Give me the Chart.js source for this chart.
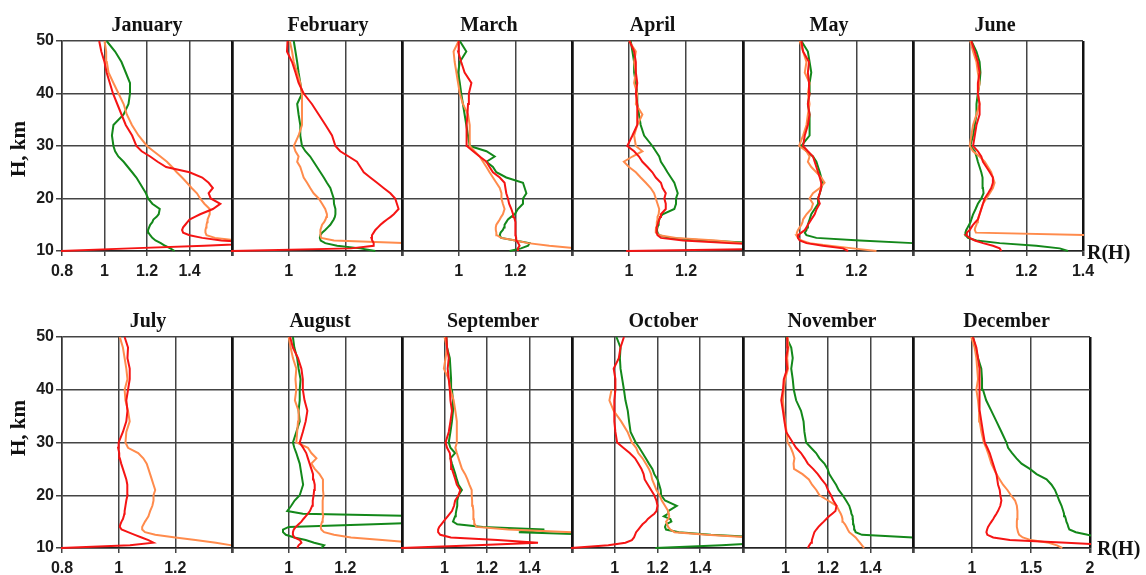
<!DOCTYPE html>
<html>
<head>
<meta charset="utf-8">
<script src="https://cdn.jsdelivr.net/npm/chart.js@4.4.0/dist/chart.umd.min.js"></script>
<style>
  html, body { margin: 0; padding: 0; background: #fff; }
  #wrap { position: relative; width: 1146px; height: 575px; overflow: hidden; background: #fff; }
  canvas.panel { position: absolute; }
  .title { position: absolute; width: 200px; text-align: center; white-space: nowrap;
           font: bold 20px "Liberation Serif", "Times New Roman", serif; color: #111; line-height: 26px; }
  .axlbl { position: absolute; white-space: nowrap; color: #111;
           font: bold 21px "Liberation Serif", "Times New Roman", serif; line-height: 24px; }
</style>
</head>
<body>
<div id="wrap"></div>
<script>
// ---- data ------------------------------------------------------------
const months = ['January', 'February', 'March', 'April', 'May', 'June',
  'July', 'August', 'September', 'October', 'November', 'December'];

// altitude levels, km (shared by every profile)
const heights = [10, 10.5, 11, 11.5, 12, 12.5, 13, 13.5, 14, 14.5, 15, 15.5, 16, 16.5, 17,
  18, 19, 20, 21, 22, 23, 24, 25, 26, 27, 28, 29, 30,
  32, 34, 36, 38, 40, 42, 44, 46, 48, 50];

const yTicks = [10, 20, 30, 40, 50];
const xMin = [0.8, 0.8, 0.8, 0.8, 0.8, 0.8, 0.8, 0.8, 0.8, 0.8, 0.8, 0.5];
const xMax = [1.6, 1.4, 1.4, 1.4, 1.4, 1.4, 1.4, 1.4, 1.6, 1.6, 1.6, 2];
const xStep = [0.2, 0.2, 0.2, 0.2, 0.2, 0.2, 0.2, 0.2, 0.2, 0.2, 0.2, 0.5];
const xTickLabels = [
  [0.8, 1, 1.2, 1.4], [1, 1.2], [1, 1.2], [1, 1.2], [1, 1.2], [1, 1.2, 1.4],
  [0.8, 1, 1.2], [1, 1.2], [1, 1.2, 1.4], [1, 1.2, 1.4], [1, 1.2, 1.4], [1, 1.5, 2]
];

// R(H) profiles, one value per entry of `heights`
const janRed = [0.79, 1.12, 1.47, 1.75, 1.55, 1.46, 1.40, 1.37, 1.365, 1.37, 1.38, 1.39, 1.40, 1.425, 1.45,
  1.51, 1.545, 1.50, 1.49, 1.51, 1.49, 1.46, 1.40, 1.29, 1.25, 1.215, 1.175, 1.15,
  1.13, 1.10, 1.08, 1.06, 1.04, 1.025, 1.01, 1.0, 0.985, 0.975];
const janGreen = [1.33, 1.31, 1.285, 1.265, 1.24, 1.225, 1.215, 1.207, 1.205, 1.21, 1.215, 1.225, 1.23, 1.245, 1.255,
  1.26, 1.225, 1.205, 1.195, 1.18, 1.165, 1.15, 1.13, 1.11, 1.09, 1.065, 1.05, 1.042,
  1.035, 1.042, 1.09, 1.113, 1.12, 1.12, 1.10, 1.08, 1.05, 1.01];
const janOrange = [1.8, 1.8, 1.8, 1.8, 1.62, 1.52, 1.48, 1.475, 1.475, 1.478, 1.48, 1.483, 1.485, 1.49, 1.495,
  1.495, 1.47, 1.45, 1.435, 1.41, 1.388, 1.365, 1.34, 1.318, 1.294, 1.263, 1.231, 1.2,
  1.16, 1.129, 1.105, 1.09, 1.066, 1.042, 1.019, 1.011, 1.008, 1.0];

const febRed = [0.79, 1.22, 1.30, 1.30, 1.295, 1.292, 1.294, 1.30, 1.306, 1.315, 1.324, 1.335, 1.347, 1.36, 1.371,
  1.388, 1.382, 1.376, 1.359, 1.335, 1.312, 1.288, 1.265, 1.253, 1.241, 1.212, 1.182, 1.165,
  1.153, 1.13, 1.106, 1.082, 1.053, 1.035, 1.024, 1.012, 0.994, 0.996];
const febGreen = [1.306, 1.253, 1.171, 1.129, 1.113, 1.11, 1.112, 1.118, 1.129, 1.138, 1.147, 1.153, 1.159, 1.163, 1.165,
  1.165, 1.16, 1.159, 1.153, 1.147, 1.135, 1.124, 1.112, 1.10, 1.088, 1.076, 1.059, 1.047,
  1.041, 1.041, 1.035, 1.03, 1.047, 1.041, 1.035, 1.03, 1.024, 1.018];
const febOrange = [1.5, 1.5, 1.5, 1.42, 1.16, 1.115, 1.112, 1.112, 1.112, 1.115, 1.118, 1.125, 1.13, 1.133, 1.135,
  1.129, 1.118, 1.106, 1.088, 1.076, 1.065, 1.053, 1.047, 1.041, 1.03, 1.035, 1.024, 1.018,
  1.035, 1.047, 1.047, 1.047, 1.047, 1.041, 1.03, 1.018, 1.012, 1.004];

const marRed = [1.209, 1.209, 1.215, 1.21, 1.204, 1.203, 1.201, 1.201, 1.201, 1.2, 1.2, 1.199, 1.198, 1.195, 1.192,
  1.186, 1.178, 1.174, 1.168, 1.165, 1.162, 1.145, 1.121, 1.109, 1.098, 1.074, 1.051, 1.029,
  1.027, 1.029, 1.031, 1.033, 1.036, 1.045, 1.021, 1.009, 0.998, 1.0];
const marGreen = [1.18, 1.22, 1.245, 1.25, 1.2, 1.15, 1.145, 1.148, 1.156, 1.16, 1.162, 1.168, 1.174, 1.185, 1.198,
  1.209, 1.227, 1.227, 1.239, 1.233, 1.227, 1.168, 1.133, 1.121, 1.098, 1.127, 1.098, 1.039,
  1.033, 1.027, 1.021, 1.015, 1.009, 1.004, 0.998, 1.004, 1.027, 1.004];
const marOrange = [1.5, 1.42, 1.32, 1.245, 1.2, 1.15, 1.135, 1.133, 1.131, 1.131, 1.133, 1.139, 1.145, 1.15, 1.156,
  1.162, 1.156, 1.151, 1.151, 1.145, 1.133, 1.121, 1.109, 1.098, 1.086, 1.074, 1.056, 1.039,
  1.039, 1.039, 1.033, 1.015, 1.004, 0.998, 0.992, 0.986, 0.982, 1.0];

const aprRed = [0.99, 1.6, 1.6, 1.35, 1.19, 1.112, 1.1, 1.097, 1.096, 1.098, 1.1, 1.103, 1.106, 1.109, 1.112,
  1.129, 1.129, 1.124, 1.129, 1.118, 1.112, 1.094, 1.082, 1.065, 1.047, 1.035, 1.018, 0.994,
  1.012, 1.029, 1.029, 1.029, 1.024, 1.029, 1.024, 1.024, 1.018, 1.002];
const aprGreen = [1.45, 1.45, 1.45, 1.45, 1.271, 1.141, 1.106, 1.1, 1.098, 1.1, 1.103, 1.104, 1.106, 1.11, 1.118,
  1.159, 1.165, 1.165, 1.171, 1.165, 1.159, 1.147, 1.135, 1.124, 1.112, 1.106, 1.094, 1.082,
  1.053, 1.041, 1.035, 1.029, 1.029, 1.024, 1.018, 1.018, 1.012, 1.006];
const aprOrange = [1.45, 1.45, 1.45, 1.4, 1.306, 1.165, 1.106, 1.094, 1.094, 1.095, 1.097, 1.098, 1.1, 1.1, 1.104,
  1.106, 1.1, 1.094, 1.088, 1.076, 1.059, 1.041, 1.024, 1.0, 0.982, 1.012, 1.047, 1.024,
  1.018, 1.029, 1.047, 1.024, 1.029, 1.018, 1.024, 1.018, 1.024, 1.0];

const mayRed = [1.171, 1.153, 1.082, 1.024, 1.0, 0.994, 0.994, 1.006, 1.018, 1.024, 1.029, 1.035, 1.041, 1.047, 1.053,
  1.06, 1.071, 1.065, 1.071, 1.076, 1.076, 1.071, 1.065, 1.059, 1.053, 1.047, 1.029, 1.012,
  1.018, 1.029, 1.035, 1.029, 1.035, 1.033, 1.029, 1.033, 1.012, 1.006];
const mayGreen = [1.45, 1.45, 1.45, 1.4, 1.212, 1.059, 1.024, 1.018, 1.024, 1.026, 1.029, 1.032, 1.035, 1.038, 1.041,
  1.053, 1.065, 1.065, 1.071, 1.076, 1.082, 1.076, 1.071, 1.065, 1.059, 1.047, 1.024, 1.006,
  1.035, 1.035, 1.035, 1.029, 1.035, 1.035, 1.041, 1.035, 1.029, 1.006];
const mayOrange = [1.271, 1.188, 1.106, 1.035, 1.006, 0.994, 0.988, 0.99, 0.994, 1.0, 1.006, 1.01, 1.012, 1.018, 1.024,
  1.041, 1.047, 1.035, 1.047, 1.071, 1.088, 1.076, 1.059, 1.041, 1.029, 1.035, 1.024, 0.998,
  1.012, 1.024, 1.029, 1.035, 1.029, 1.035, 1.018, 1.024, 1.012, 1.0];

const junRed = [1.112, 1.106, 1.082, 1.047, 1.018, 1.0, 0.988, 0.99, 1.0, 1.006, 1.012, 1.02, 1.029, 1.032, 1.035,
  1.041, 1.047, 1.053, 1.065, 1.076, 1.082, 1.082, 1.071, 1.059, 1.047, 1.041, 1.029, 1.012,
  1.018, 1.024, 1.035, 1.035, 1.029, 1.029, 1.035, 1.029, 1.018, 1.006];
const junGreen = [1.347, 1.318, 1.235, 1.106, 1.024, 0.994, 0.986, 0.985, 0.988, 0.993, 0.998, 1.003, 1.006, 1.009, 1.012,
  1.021, 1.029, 1.041, 1.049, 1.047, 1.047, 1.044, 1.041, 1.035, 1.029, 1.024, 1.018, 1.002,
  1.012, 1.018, 1.024, 1.024, 1.029, 1.035, 1.038, 1.035, 1.024, 1.006];
const junOrange = [1.45, 1.45, 1.45, 1.45, 1.45, 1.45, 1.45, 1.022, 1.018, 1.02, 1.024, 1.026, 1.029, 1.032, 1.035,
  1.041, 1.047, 1.059, 1.071, 1.082, 1.088, 1.082, 1.076, 1.065, 1.053, 1.035, 1.012, 1.0,
  1.006, 1.012, 1.024, 1.035, 1.029, 1.035, 1.029, 1.024, 1.012, 1.002];

const julRed = [0.79, 1.04, 1.123, 1.105, 1.081, 1.057, 1.033, 1.01, 1.004, 1.006, 1.01, 1.015, 1.018, 1.02, 1.021,
  1.024, 1.027, 1.031, 1.031, 1.03, 1.027, 1.021, 1.015, 1.009, 1.004, 1.002, 0.998, 1.0,
  1.015, 1.027, 1.031, 1.027, 1.033, 1.039, 1.039, 1.031, 1.033, 1.021];
const julOrange = [1.45, 1.4, 1.343, 1.271, 1.2, 1.129, 1.093, 1.083, 1.083, 1.088, 1.093, 1.099, 1.105, 1.108, 1.111,
  1.119, 1.123, 1.123, 1.129, 1.123, 1.117, 1.111, 1.105, 1.099, 1.087, 1.069, 1.033, 1.024,
  1.027, 1.039, 1.033, 1.024, 1.021, 1.031, 1.027, 1.021, 1.015, 1.004];

const augRed = [1.03, 1.035, 1.045, 1.04, 1.02, 1.015, 1.015, 1.018, 1.025, 1.035, 1.045, 1.052, 1.06, 1.068, 1.075,
  1.083, 1.085, 1.088, 1.09, 1.092, 1.088, 1.086, 1.08, 1.074, 1.068, 1.062, 1.051, 1.039,
  1.05, 1.06, 1.066, 1.056, 1.05, 1.05, 1.045, 1.033, 1.015, 1.005];
const augGreen = [1.115, 1.125, 1.09, 1.06, 1.02, 0.99, 0.98, 0.98, 1.0, 1.3, 1.6, 1.6, 1.5, 1.05, 0.995,
  1.009, 1.021, 1.039, 1.045, 1.051, 1.048, 1.045, 1.042, 1.039, 1.033, 1.027, 1.02, 1.015,
  1.027, 1.039, 1.035, 1.039, 1.039, 1.042, 1.035, 1.03, 1.02, 1.015];
const augOrange = [1.5, 1.5, 1.44, 1.33, 1.22, 1.16, 1.125, 1.115, 1.113, 1.115, 1.118, 1.12, 1.122, 1.121, 1.12,
  1.12, 1.12, 1.123, 1.121, 1.121, 1.121, 1.109, 1.092, 1.08, 1.098, 1.08, 1.068, 1.027,
  1.03, 1.033, 1.035, 1.022, 1.027, 1.024, 1.027, 1.015, 1.007, 1.0];

const sepRed = [0.79, 1.15, 1.44, 1.25, 1.03, 0.98, 0.97, 0.97, 0.975, 0.985, 0.995, 1.005, 1.015, 1.025, 1.035,
  1.045, 1.05, 1.066, 1.074, 1.058, 1.051, 1.043, 1.035, 1.031, 1.028, 1.025, 1.012, 1.005,
  1.02, 1.028, 1.035, 1.028, 1.025, 1.02, 1.015, 1.02, 1.012, 1.009];
const sepGreen = [1.7, 1.7, 1.7, 1.7, 1.7, 1.7, 1.35, 1.47, 1.18, 1.06, 1.04, 1.045, 1.05, 1.053, 1.055,
  1.06, 1.06, 1.066, 1.082, 1.066, 1.058, 1.051, 1.043, 1.035, 1.028, 1.05, 1.028, 1.02,
  1.028, 1.035, 1.04, 1.04, 1.035, 1.031, 1.028, 1.025, 1.012, 1.009];
const sepOrange = [1.7, 1.7, 1.7, 1.7, 1.7, 1.7, 1.6, 1.3, 1.15, 1.143, 1.14, 1.138, 1.137, 1.136, 1.135,
  1.133, 1.13, 1.128, 1.128, 1.117, 1.108, 1.097, 1.082, 1.074, 1.066, 1.058, 1.051, 1.058,
  1.058, 1.058, 1.051, 1.043, 1.028, 1.02, 0.997, 1.005, 1.012, 1.0];

const octRed = [0.79, 0.97, 1.05, 1.08, 1.09, 1.095, 1.1, 1.11, 1.12, 1.13, 1.145, 1.155, 1.17, 1.185, 1.195,
  1.2, 1.195, 1.185, 1.17, 1.155, 1.14, 1.135, 1.125, 1.11, 1.095, 1.07, 1.04, 1.011,
  1.003, 0.998, 0.998, 0.998, 1.003, 1.003, 0.995, 1.019, 1.027, 1.043];
const octGreen = [1.19, 1.5, 1.7, 1.7, 1.7, 1.45, 1.3, 1.24, 1.235, 1.24, 1.265, 1.26, 1.23, 1.25, 1.25,
  1.29, 1.235, 1.217, 1.215, 1.208, 1.2, 1.185, 1.176, 1.16, 1.145, 1.13, 1.115, 1.098,
  1.074, 1.067, 1.061, 1.05, 1.043, 1.035, 1.027, 1.024, 1.027, 1.008];
const octOrange = [1.65, 1.65, 1.65, 1.65, 1.65, 1.43, 1.28, 1.26, 1.25, 1.245, 1.24, 1.25, 1.255, 1.253, 1.25,
  1.235, 1.22, 1.21, 1.195, 1.185, 1.175, 1.17, 1.16, 1.145, 1.13, 1.11, 1.1, 1.08,
  1.06, 1.03, 0.995, 0.975, 0.985, null, null, null, null, null];

const novRed = [1.105, 1.112, 1.12, 1.124, 1.128, 1.132, 1.136, 1.145, 1.155, 1.167, 1.18, 1.192, 1.205, 1.22, 1.235,
  1.24, 1.225, 1.214, 1.2, 1.19, 1.17, 1.152, 1.13, 1.105, 1.09, 1.073, 1.05, 1.034,
  1.003, 0.995, 0.988, 0.98, 0.988, 0.992, 1.008, 1.003, 1.011, 1.008];
const novGreen = [1.7, 1.7, 1.75, 1.75, 1.6, 1.36, 1.33, 1.325, 1.323, 1.32, 1.318, 1.317, 1.316, 1.31, 1.308,
  1.3, 1.285, 1.269, 1.25, 1.238, 1.222, 1.206, 1.198, 1.183, 1.16, 1.144, 1.12, 1.097,
  1.089, 1.085, 1.073, 1.05, 1.039, 1.034, 1.027, 1.034, 1.027, 1.003];
const novOrange = [1.37, 1.36, 1.35, 1.34, 1.33, 1.315, 1.3, 1.293, 1.287, 1.28, 1.27, 1.268, 1.265, 1.26, 1.253,
  1.24, 1.2, 1.16, 1.145, 1.125, 1.11, 1.08, 1.04, 1.038, 1.042, 1.035, 1.025, 1.01,
  1.005, 0.998, 0.992, 0.988, 0.992, 0.998, 1.012, 1.008, 1.014, 1.01];

const decRed = [2.2, 2.2, 1.8, 1.32, 1.18, 1.13, 1.122, 1.128, 1.136, 1.15, 1.165, 1.18, 1.193, 1.207, 1.22,
  1.24, 1.249, 1.24, 1.235, 1.221, 1.214, 1.207, 1.192, 1.178, 1.164, 1.15, 1.13, 1.108,
  1.093, 1.079, 1.065, 1.06, 1.065, 1.065, 1.065, 1.051, 1.037, 1.008];
const decGreen = [2.1, 2.1, 2.1, 2.1, 2.1, 1.98, 1.88, 1.825, 1.816, 1.81, 1.8, 1.795, 1.788, 1.78, 1.773,
  1.759, 1.739, 1.722, 1.703, 1.674, 1.632, 1.547, 1.49, 1.42, 1.377, 1.34, 1.306, 1.292,
  1.25, 1.207, 1.164, 1.12, 1.093, 1.085, 1.079, 1.051, 1.03, 1.008];
const decOrange = [1.765, 1.72, 1.65, 1.5, 1.43, 1.4, 1.39, 1.385, 1.38, 1.38, 1.38, 1.382, 1.385, 1.385, 1.385,
  1.38, 1.365, 1.33, 1.3, 1.263, 1.235, 1.207, 1.185, 1.164, 1.15, 1.136, 1.12, 1.1,
  1.08, 1.065, 1.06, 1.051, 1.037, 1.051, 1.044, 1.037, 1.022, 0.994];

const redSeries = [janRed, febRed, marRed, aprRed, mayRed, junRed, julRed, augRed, sepRed, octRed, novRed, decRed];
const greenSeries = [janGreen, febGreen, marGreen, aprGreen, mayGreen, junGreen, null, augGreen, sepGreen, octGreen, novGreen, decGreen];
const orangeSeries = [janOrange, febOrange, marOrange, aprOrange, mayOrange, junOrange, julOrange, augOrange, sepOrange, octOrange, novOrange, decOrange];

// ---- layout ------------------------------------------------------------
const RED = '#f51414', GREEN = '#13881a', ORANGE = '#ff8b4c';
const GRID = '#444', EDGE = '#111';
const colEdges = [62, 232, 402, 572, 743, 913, 1083];
const rowTop = [41, 337], rowH = [210, 211];
const titleDx = [0, 11, 2, -5, 1, -3, 1, 3, 6, 6, 4, 5];
const tickFont = { family: '"Liberation Sans", Arial, sans-serif', size: 16, weight: 'bold' };
const PL = 40, PR = 22, PT = 12, PB = 36;
const wrap = document.getElementById('wrap');

function fmt(v) { return String(Math.round(v * 100) / 100); }

function xGrid(i) {
  const out = [];
  for (let v = xMin[i]; v <= xMax[i] + 1e-9; v += xStep[i]) out.push(Math.round(v * 100) / 100);
  return out;
}

function toPoints(arr) {
  return arr.map((r, k) => ({ x: r, y: heights[k] }));
}

function line(arr, color) {
  return { data: toPoints(arr), borderColor: color, borderWidth: 2, pointRadius: 0,
    tension: 0, showLine: true, spanGaps: false, clip: 1 };
}

function addText(cls, text, css) {
  const d = document.createElement('div');
  d.className = cls;
  d.textContent = text;
  Object.assign(d.style, css);
  wrap.appendChild(d);
  return d;
}

function makePanel(i) {
  const col = i % 6, row = Math.floor(i / 6);
  const left = colEdges[col];
  const right = i === 11 ? 1090 : colEdges[col + 1];
  const top = rowTop[row], h = rowH[row], w = right - left;
  const first = col === 0;

  const canvas = document.createElement('canvas');
  canvas.className = 'panel';
  canvas.width = w + PL + PR;
  canvas.height = h + PT + PB;
  canvas.style.left = (left - PL) + 'px';
  canvas.style.top = (top - PT) + 'px';
  canvas.style.width = canvas.width + 'px';
  canvas.style.height = canvas.height + 'px';
  wrap.appendChild(canvas);

  const datasets = [line(redSeries[i], RED), line(orangeSeries[i], ORANGE)];
  if (greenSeries[i]) datasets.push(line(greenSeries[i], GREEN));

  const gridVals = xGrid(i);
  const labelled = xTickLabels[i];
  const isEdge = v => Math.abs(v - xMax[i]) < 1e-6 || (!first && Math.abs(v - xMin[i]) < 1e-6);

  new Chart(canvas, {
    type: 'scatter',
    data: { datasets },
    options: {
      responsive: false,
      animation: false,
      devicePixelRatio: 1,
      layout: { padding: { top: PT, right: PR, left: 0, bottom: 0 } },
      plugins: { legend: { display: false }, tooltip: { enabled: false } },
      scales: {
        x: {
          type: 'linear', min: xMin[i], max: xMax[i],
          afterFit: s => { s.height = PB; },
          afterBuildTicks: s => { s.ticks = gridVals.map(v => ({ value: v })); },
          ticks: {
            autoSkip: false, maxRotation: 0, padding: 6, color: '#1c1c1c', font: tickFont,
            callback: v => labelled.some(l => Math.abs(l - v) < 1e-6) ? fmt(v) : ''
          },
          grid: {
            color: ctx => (ctx.tick && isEdge(ctx.tick.value)) ? EDGE : GRID,
            lineWidth: ctx => (ctx.tick && isEdge(ctx.tick.value)) ? 2.5 : 1.5,
            tickLength: 5, drawTicks: true, tickColor: GRID
          },
          border: { display: true, color: '#222', width: 1.5 }
        },
        y: {
          type: 'linear', min: 10, max: 50,
          afterFit: s => { s.width = PL; },
          afterBuildTicks: s => { s.ticks = yTicks.map(v => ({ value: v })); },
          ticks: { display: first, padding: 2, color: '#1c1c1c', font: tickFont },
          grid: { color: GRID, lineWidth: 1.5, drawTicks: first, tickLength: 6, tickColor: GRID },
          border: { display: first, color: '#333', width: 1.5 }
        }
      }
    }
  });

  const cx = (left + right) / 2 + titleDx[i];
  addText('title', months[i], { left: (cx - 100) + 'px', top: (row === 0 ? 11 : 307) + 'px' });
}

for (let i = 0; i < 12; i++) makePanel(i);

// axis captions
const hk1 = addText('axlbl', 'H, km', { left: '18px', top: '149px' });
const hk2 = addText('axlbl', 'H, km', { left: '18px', top: '428px' });
[hk1, hk2].forEach(d => { d.style.transform = 'translate(-50%, -50%) rotate(-90deg)'; });
addText('axlbl', 'R(H)', { left: '1087px', top: '240px', fontSize: '20px' });
addText('axlbl', 'R(H)', { left: '1097px', top: '536px', fontSize: '20px' });
</script>
</body>
</html>
